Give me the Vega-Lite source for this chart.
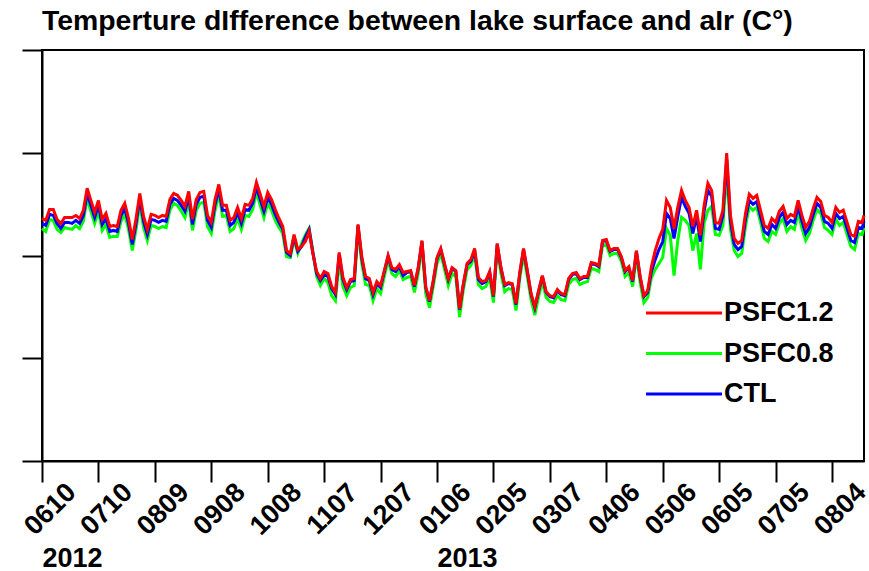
{
  "$schema": "https://vega.github.io/schema/vega-lite/v6.json",
  "width": 822,
  "height": 411,
  "autosize": {"type": "none"},
  "padding": {"left": 42, "top": 50, "right": 5, "bottom": 110},
  "background": "white",
  "config": {
    "font": "Liberation Sans",
    "view": {"stroke": "black", "strokeWidth": 2},
    "axis": {
      "grid": false,
      "domainColor": "black",
      "domainWidth": 2,
      "tickColor": "black",
      "tickWidth": 2,
      "labelFont": "Liberation Sans",
      "labelFontWeight": "bold",
      "labelColor": "black",
      "labelFontSize": 27
    }
  },
  "title": {
    "text": "Temperture dIfference between lake surface and aIr (C°)",
    "anchor": "start",
    "frame": "group",
    "font": "Liberation Sans",
    "fontSize": 28.4,
    "fontWeight": "bold",
    "color": "black",
    "offset": 13
  },
  "data": {
    "values": [
      {"d":"2012-06-10","r":1.80,"b":1.56,"g":1.31},
      {"d":"2012-06-12","r":1.71,"b":1.47,"g":1.17},
      {"d":"2012-06-14","r":2.24,"b":2.00,"g":1.75},
      {"d":"2012-06-16","r":2.24,"b":1.95,"g":1.70},
      {"d":"2012-06-18","r":1.76,"b":1.56,"g":1.27},
      {"d":"2012-06-20","r":1.56,"b":1.32,"g":1.12},
      {"d":"2012-06-22","r":1.85,"b":1.61,"g":1.36},
      {"d":"2012-06-24","r":1.85,"b":1.61,"g":1.31},
      {"d":"2012-06-26","r":1.85,"b":1.56,"g":1.27},
      {"d":"2012-06-28","r":1.95,"b":1.71,"g":1.46},
      {"d":"2012-06-30","r":1.80,"b":1.56,"g":1.31},
      {"d":"2012-07-02","r":2.20,"b":1.95,"g":1.66},
      {"d":"2012-07-04","r":3.27,"b":3.02,"g":2.78},
      {"d":"2012-07-06","r":2.68,"b":2.44,"g":2.15},
      {"d":"2012-07-08","r":2.10,"b":1.85,"g":1.56},
      {"d":"2012-07-10","r":2.68,"b":2.44,"g":2.15},
      {"d":"2012-07-12","r":1.76,"b":1.51,"g":1.22},
      {"d":"2012-07-14","r":2.05,"b":1.80,"g":1.51},
      {"d":"2012-07-16","r":1.41,"b":1.17,"g":0.88},
      {"d":"2012-07-18","r":1.46,"b":1.22,"g":0.93},
      {"d":"2012-07-20","r":1.41,"b":1.17,"g":0.93},
      {"d":"2012-07-22","r":2.20,"b":1.95,"g":1.66},
      {"d":"2012-07-24","r":2.54,"b":2.29,"g":2.00},
      {"d":"2012-07-26","r":1.80,"b":1.56,"g":1.27},
      {"d":"2012-07-28","r":0.78,"b":0.54,"g":0.24},
      {"d":"2012-07-30","r":1.80,"b":1.56,"g":1.27},
      {"d":"2012-08-01","r":3.02,"b":2.78,"g":2.49},
      {"d":"2012-08-03","r":1.90,"b":1.66,"g":1.36},
      {"d":"2012-08-05","r":1.27,"b":1.02,"g":0.73},
      {"d":"2012-08-07","r":2.00,"b":1.76,"g":1.46},
      {"d":"2012-08-09","r":1.95,"b":1.71,"g":1.41},
      {"d":"2012-08-11","r":1.85,"b":1.61,"g":1.31},
      {"d":"2012-08-13","r":1.95,"b":1.71,"g":1.41},
      {"d":"2012-08-15","r":1.90,"b":1.66,"g":1.36},
      {"d":"2012-08-17","r":2.73,"b":2.49,"g":2.20},
      {"d":"2012-08-19","r":3.02,"b":2.78,"g":2.54},
      {"d":"2012-08-21","r":2.93,"b":2.68,"g":2.44},
      {"d":"2012-08-23","r":2.68,"b":2.44,"g":2.15},
      {"d":"2012-08-25","r":2.39,"b":2.15,"g":1.85},
      {"d":"2012-08-27","r":3.12,"b":2.88,"g":2.63},
      {"d":"2012-08-29","r":1.76,"b":1.51,"g":1.22},
      {"d":"2012-08-31","r":2.73,"b":2.49,"g":2.20},
      {"d":"2012-09-02","r":3.07,"b":2.83,"g":2.54},
      {"d":"2012-09-04","r":3.12,"b":2.88,"g":2.59},
      {"d":"2012-09-06","r":1.95,"b":1.71,"g":1.41},
      {"d":"2012-09-08","r":1.61,"b":1.37,"g":1.07},
      {"d":"2012-09-10","r":2.73,"b":2.49,"g":2.20},
      {"d":"2012-09-12","r":3.46,"b":3.22,"g":2.98},
      {"d":"2012-09-14","r":2.44,"b":2.20,"g":1.90},
      {"d":"2012-09-16","r":2.44,"b":2.20,"g":1.95},
      {"d":"2012-09-18","r":1.71,"b":1.46,"g":1.17},
      {"d":"2012-09-20","r":1.85,"b":1.61,"g":1.31},
      {"d":"2012-09-22","r":2.34,"b":2.10,"g":1.80},
      {"d":"2012-09-24","r":1.80,"b":1.56,"g":1.27},
      {"d":"2012-09-26","r":2.49,"b":2.24,"g":1.95},
      {"d":"2012-09-28","r":2.44,"b":2.20,"g":1.90},
      {"d":"2012-09-30","r":2.78,"b":2.54,"g":2.24},
      {"d":"2012-10-02","r":3.56,"b":3.32,"g":3.07},
      {"d":"2012-10-04","r":2.98,"b":2.73,"g":2.44},
      {"d":"2012-10-06","r":2.39,"b":2.15,"g":1.85},
      {"d":"2012-10-08","r":3.07,"b":2.83,"g":2.54},
      {"d":"2012-10-10","r":2.73,"b":2.49,"g":2.20},
      {"d":"2012-10-12","r":2.24,"b":2.00,"g":1.71},
      {"d":"2012-10-14","r":1.80,"b":1.61,"g":1.36},
      {"d":"2012-10-16","r":1.41,"b":1.27,"g":1.07},
      {"d":"2012-10-18","r":0.24,"b":0.15,"g":-0.05},
      {"d":"2012-10-20","r":0.10,"b":0.00,"g":-0.10},
      {"d":"2012-10-22","r":1.02,"b":0.93,"g":0.78},
      {"d":"2012-10-24","r":0.29,"b":0.20,"g":0.10},
      {"d":"2012-10-26","r":0.44,"b":0.44,"g":0.59},
      {"d":"2012-10-28","r":0.68,"b":0.90,"g":1.00},
      {"d":"2012-10-30","r":1.17,"b":1.27,"g":1.32},
      {"d":"2012-11-01","r":0.10,"b":0.15,"g":0.20},
      {"d":"2012-11-03","r":-0.78,"b":-0.88,"g":-1.02},
      {"d":"2012-11-05","r":-1.12,"b":-1.22,"g":-1.46},
      {"d":"2012-11-07","r":-0.78,"b":-0.93,"g":-1.12},
      {"d":"2012-11-09","r":-0.88,"b":-1.02,"g":-1.32},
      {"d":"2012-11-11","r":-1.51,"b":-1.61,"g":-1.95},
      {"d":"2012-11-13","r":-1.80,"b":-1.90,"g":-2.20},
      {"d":"2012-11-15","r":0.15,"b":0.05,"g":-0.29},
      {"d":"2012-11-17","r":-1.07,"b":-1.17,"g":-1.51},
      {"d":"2012-11-19","r":-1.56,"b":-1.66,"g":-1.95},
      {"d":"2012-11-21","r":-1.17,"b":-1.27,"g":-1.56},
      {"d":"2012-11-23","r":-1.12,"b":-1.22,"g":-1.46},
      {"d":"2012-11-25","r":1.51,"b":1.46,"g":1.22},
      {"d":"2012-11-27","r":-0.05,"b":-0.15,"g":-0.39},
      {"d":"2012-11-29","r":-1.02,"b":-1.12,"g":-1.41},
      {"d":"2012-12-01","r":-1.12,"b":-1.22,"g":-1.46},
      {"d":"2012-12-03","r":-1.80,"b":-1.90,"g":-2.20},
      {"d":"2012-12-05","r":-1.27,"b":-1.37,"g":-1.61},
      {"d":"2012-12-07","r":-1.46,"b":-1.56,"g":-1.85},
      {"d":"2012-12-09","r":-0.73,"b":-0.78,"g":-1.02},
      {"d":"2012-12-11","r":0.00,"b":-0.05,"g":-0.24},
      {"d":"2012-12-13","r":-0.59,"b":-0.68,"g":-0.88},
      {"d":"2012-12-15","r":-0.68,"b":-0.78,"g":-1.02},
      {"d":"2012-12-17","r":-0.44,"b":-0.54,"g":-0.73},
      {"d":"2012-12-19","r":-0.83,"b":-0.98,"g":-1.17},
      {"d":"2012-12-21","r":-0.78,"b":-0.83,"g":-1.07},
      {"d":"2012-12-23","r":-0.73,"b":-0.78,"g":-1.02},
      {"d":"2012-12-25","r":-1.46,"b":-1.51,"g":-1.80},
      {"d":"2012-12-27","r":-0.59,"b":-0.63,"g":-0.88},
      {"d":"2012-12-29","r":0.73,"b":0.68,"g":0.44},
      {"d":"2012-12-31","r":-1.51,"b":-1.56,"g":-1.85},
      {"d":"2013-01-02","r":-2.20,"b":-2.24,"g":-2.54},
      {"d":"2013-01-04","r":-1.22,"b":-1.27,"g":-1.51},
      {"d":"2013-01-06","r":-0.10,"b":-0.15,"g":-0.39},
      {"d":"2013-01-08","r":0.34,"b":0.29,"g":0.10},
      {"d":"2013-01-10","r":-0.39,"b":-0.44,"g":-0.68},
      {"d":"2013-01-12","r":-1.12,"b":-1.17,"g":-1.46},
      {"d":"2013-01-14","r":-0.59,"b":-0.63,"g":-0.88},
      {"d":"2013-01-16","r":-0.73,"b":-0.78,"g":-1.02},
      {"d":"2013-01-18","r":-2.59,"b":-2.63,"g":-3.00},
      {"d":"2013-01-20","r":-1.37,"b":-1.41,"g":-1.66},
      {"d":"2013-01-22","r":-0.39,"b":-0.44,"g":-0.68},
      {"d":"2013-01-24","r":-0.20,"b":-0.29,"g":-0.49},
      {"d":"2013-01-26","r":0.34,"b":0.24,"g":0.05},
      {"d":"2013-01-28","r":-1.07,"b":-1.17,"g":-1.41},
      {"d":"2013-01-30","r":-1.27,"b":-1.37,"g":-1.61},
      {"d":"2013-02-01","r":-1.22,"b":-1.27,"g":-1.51},
      {"d":"2013-02-03","r":-0.78,"b":-0.83,"g":-1.07},
      {"d":"2013-02-05","r":-1.95,"b":-2.00,"g":-2.29},
      {"d":"2013-02-07","r":0.59,"b":0.54,"g":0.34},
      {"d":"2013-02-09","r":-0.59,"b":-0.63,"g":-0.88},
      {"d":"2013-02-11","r":-1.41,"b":-1.46,"g":-1.76},
      {"d":"2013-02-13","r":-1.32,"b":-1.37,"g":-1.61},
      {"d":"2013-02-15","r":-1.37,"b":-1.41,"g":-1.66},
      {"d":"2013-02-17","r":-2.34,"b":-2.39,"g":-2.68},
      {"d":"2013-02-19","r":-0.83,"b":-0.88,"g":-1.12},
      {"d":"2013-02-21","r":0.34,"b":0.29,"g":0.05},
      {"d":"2013-02-23","r":-0.73,"b":-0.78,"g":-1.02},
      {"d":"2013-02-25","r":-1.85,"b":-1.90,"g":-2.15},
      {"d":"2013-02-27","r":-2.49,"b":-2.54,"g":-2.90},
      {"d":"2013-03-01","r":-1.71,"b":-1.76,"g":-2.00},
      {"d":"2013-03-03","r":-0.98,"b":-1.02,"g":-1.27},
      {"d":"2013-03-05","r":-1.76,"b":-1.80,"g":-2.05},
      {"d":"2013-03-07","r":-1.95,"b":-2.00,"g":-2.24},
      {"d":"2013-03-09","r":-2.00,"b":-2.05,"g":-2.29},
      {"d":"2013-03-11","r":-1.66,"b":-1.71,"g":-1.95},
      {"d":"2013-03-13","r":-1.85,"b":-1.90,"g":-2.15},
      {"d":"2013-03-15","r":-1.90,"b":-1.95,"g":-2.20},
      {"d":"2013-03-17","r":-1.12,"b":-1.17,"g":-1.41},
      {"d":"2013-03-19","r":-0.88,"b":-0.93,"g":-1.17},
      {"d":"2013-03-21","r":-0.83,"b":-0.88,"g":-1.12},
      {"d":"2013-03-23","r":-1.12,"b":-1.17,"g":-1.41},
      {"d":"2013-03-25","r":-1.02,"b":-1.07,"g":-1.32},
      {"d":"2013-03-27","r":-1.02,"b":-1.07,"g":-1.27},
      {"d":"2013-03-29","r":-0.34,"b":-0.39,"g":-0.63},
      {"d":"2013-03-31","r":-0.39,"b":-0.44,"g":-0.68},
      {"d":"2013-04-02","r":-0.49,"b":-0.54,"g":-0.78},
      {"d":"2013-04-04","r":0.73,"b":0.68,"g":0.49},
      {"d":"2013-04-06","r":0.78,"b":0.73,"g":0.54},
      {"d":"2013-04-08","r":0.24,"b":0.20,"g":0.00},
      {"d":"2013-04-10","r":0.34,"b":0.29,"g":0.10},
      {"d":"2013-04-12","r":0.34,"b":0.29,"g":0.10},
      {"d":"2013-04-14","r":-0.05,"b":-0.10,"g":-0.29},
      {"d":"2013-04-16","r":-0.73,"b":-0.78,"g":-1.02},
      {"d":"2013-04-18","r":-0.54,"b":-0.59,"g":-0.83},
      {"d":"2013-04-20","r":-1.22,"b":-1.27,"g":-1.51},
      {"d":"2013-04-22","r":0.24,"b":0.20,"g":0.00},
      {"d":"2013-04-24","r":-1.02,"b":-1.07,"g":-1.32},
      {"d":"2013-04-26","r":-1.95,"b":-2.00,"g":-2.29},
      {"d":"2013-04-28","r":-1.71,"b":-1.80,"g":-2.05},
      {"d":"2013-04-30","r":-0.54,"b":-0.78,"g":-1.07},
      {"d":"2013-05-02","r":0.24,"b":-0.20,"g":-0.68},
      {"d":"2013-05-04","r":0.83,"b":0.29,"g":-0.39},
      {"d":"2013-05-06","r":1.27,"b":0.68,"g":-0.10},
      {"d":"2013-05-08","r":2.68,"b":2.05,"g":1.32},
      {"d":"2013-05-10","r":2.34,"b":1.80,"g":0.98},
      {"d":"2013-05-12","r":1.32,"b":0.83,"g":-0.98},
      {"d":"2013-05-14","r":2.34,"b":1.90,"g":0.73},
      {"d":"2013-05-16","r":3.17,"b":2.83,"g":1.85},
      {"d":"2013-05-18","r":2.68,"b":2.39,"g":1.71},
      {"d":"2013-05-20","r":2.34,"b":2.05,"g":1.46},
      {"d":"2013-05-22","r":1.41,"b":1.07,"g":0.24},
      {"d":"2013-05-24","r":2.20,"b":1.90,"g":1.07},
      {"d":"2013-05-26","r":0.98,"b":0.68,"g":-0.68},
      {"d":"2013-05-28","r":2.44,"b":2.15,"g":1.56},
      {"d":"2013-05-30","r":3.51,"b":3.17,"g":2.20},
      {"d":"2013-06-01","r":3.17,"b":2.88,"g":2.39},
      {"d":"2013-06-03","r":1.61,"b":1.32,"g":1.02},
      {"d":"2013-06-05","r":1.56,"b":1.27,"g":0.98},
      {"d":"2013-06-07","r":2.20,"b":1.95,"g":1.46},
      {"d":"2013-06-09","r":4.98,"b":4.68,"g":4.10},
      {"d":"2013-06-11","r":1.95,"b":1.66,"g":1.27},
      {"d":"2013-06-13","r":0.83,"b":0.54,"g":0.24},
      {"d":"2013-06-15","r":0.59,"b":0.29,"g":-0.05},
      {"d":"2013-06-17","r":0.73,"b":0.44,"g":0.10},
      {"d":"2013-06-19","r":2.05,"b":1.76,"g":1.41},
      {"d":"2013-06-21","r":2.98,"b":2.68,"g":2.39},
      {"d":"2013-06-23","r":2.78,"b":2.49,"g":2.20},
      {"d":"2013-06-25","r":2.93,"b":2.63,"g":2.34},
      {"d":"2013-06-27","r":2.20,"b":1.90,"g":1.61},
      {"d":"2013-06-29","r":1.46,"b":1.17,"g":0.83},
      {"d":"2013-07-01","r":1.32,"b":1.02,"g":0.68},
      {"d":"2013-07-03","r":1.80,"b":1.51,"g":1.17},
      {"d":"2013-07-05","r":1.61,"b":1.32,"g":1.02},
      {"d":"2013-07-07","r":2.15,"b":1.85,"g":1.56},
      {"d":"2013-07-09","r":2.39,"b":2.10,"g":1.80},
      {"d":"2013-07-11","r":1.80,"b":1.51,"g":1.17},
      {"d":"2013-07-13","r":2.00,"b":1.71,"g":1.41},
      {"d":"2013-07-15","r":1.90,"b":1.61,"g":1.27},
      {"d":"2013-07-17","r":2.68,"b":2.39,"g":2.10},
      {"d":"2013-07-19","r":1.95,"b":1.66,"g":1.32},
      {"d":"2013-07-21","r":1.37,"b":1.07,"g":0.73},
      {"d":"2013-07-23","r":1.66,"b":1.37,"g":1.07},
      {"d":"2013-07-25","r":2.29,"b":2.00,"g":1.71},
      {"d":"2013-07-27","r":2.83,"b":2.54,"g":2.24},
      {"d":"2013-07-29","r":2.63,"b":2.34,"g":2.05},
      {"d":"2013-07-31","r":1.95,"b":1.66,"g":1.36},
      {"d":"2013-08-02","r":1.85,"b":1.56,"g":1.22},
      {"d":"2013-08-04","r":1.61,"b":1.32,"g":1.02},
      {"d":"2013-08-06","r":2.34,"b":2.05,"g":1.76},
      {"d":"2013-08-08","r":2.10,"b":1.80,"g":1.46},
      {"d":"2013-08-10","r":2.20,"b":1.90,"g":1.61},
      {"d":"2013-08-12","r":1.61,"b":1.32,"g":1.02},
      {"d":"2013-08-14","r":1.02,"b":0.73,"g":0.44},
      {"d":"2013-08-16","r":0.93,"b":0.63,"g":0.29},
      {"d":"2013-08-18","r":1.66,"b":1.37,"g":1.07},
      {"d":"2013-08-20","r":1.61,"b":1.32,"g":1.02},
      {"d":"2013-08-21","r":1.95,"b":1.66,"g":1.36}
    ]
  },
  "layer": [
    {
      "mark": {"type": "line", "strokeWidth": 3},
      "encoding": {
        "x": {
          "field": "d",
          "type": "temporal",
          "scale": {"type": "utc", "domain": [{"year": 2012, "month": 6, "date": 10, "utc": true}, {"year": 2013, "month": 8, "date": 21, "utc": true}]},
          "axis": {
            "title": null,
            "labelExpr": "utcFormat(datum.value, '%m%d')",
            "values": [
              {"year": 2012, "month": 6, "date": 10, "utc": true},
              {"year": 2012, "month": 7, "date": 10, "utc": true},
              {"year": 2012, "month": 8, "date": 9, "utc": true},
              {"year": 2012, "month": 9, "date": 8, "utc": true},
              {"year": 2012, "month": 10, "date": 8, "utc": true},
              {"year": 2012, "month": 11, "date": 7, "utc": true},
              {"year": 2012, "month": 12, "date": 7, "utc": true},
              {"year": 2013, "month": 1, "date": 6, "utc": true},
              {"year": 2013, "month": 2, "date": 5, "utc": true},
              {"year": 2013, "month": 3, "date": 7, "utc": true},
              {"year": 2013, "month": 4, "date": 6, "utc": true},
              {"year": 2013, "month": 5, "date": 6, "utc": true},
              {"year": 2013, "month": 6, "date": 5, "utc": true},
              {"year": 2013, "month": 7, "date": 5, "utc": true},
              {"year": 2013, "month": 8, "date": 4, "utc": true}
            ],
            "tickSize": 21,
            "labelAngle": -45,
            "labelAlign": "center",
            "labelBaseline": "middle",
            "labelPadding": 27,
            "labelOffset": 8,
            "labelOverlap": false,
            "labelFlush": false,
            "labelBound": false
          }
        },
        "y": {
          "field": "g",
          "type": "quantitative",
          "scale": {"domain": [-10, 10], "nice": false, "zero": false},
          "axis": {"title": null, "labels": false, "values": [-10, -5, 0, 5, 10], "tickSize": 20}
        },
        "color": {
          "datum": "PSFC0.8",
          "type": "nominal",
          "scale": {"domain": ["PSFC1.2", "PSFC0.8", "CTL"], "range": ["#ff0000", "#00ff00", "#0000ff"]},
          "legend": {
            "title": null,
            "orient": "none",
            "legendX": 628.5,
            "legendY": 249.5,
            "padding": 0,
            "rowPadding": 12.5,
            "symbolType": "M-4,0H4",
            "symbolSize": 361,
            "symbolStrokeWidth": 3,
            "labelFont": "Liberation Sans",
            "labelFontSize": 27,
            "labelFontWeight": "bold",
            "labelColor": "black",
            "labelOffset": 26.5,
            "labelLimit": 0
          }
        }
      }
    },
    {
      "mark": {"type": "line", "strokeWidth": 3},
      "encoding": {
        "x": {
          "field": "d",
          "type": "temporal",
          "axis": {
            "title": null,
            "orient": "bottom",
            "domain": false,
            "ticks": false,
            "labelExpr": "utcFormat(datum.value, '%Y')",
            "values": [
              {"year": 2012, "month": 6, "date": 10, "utc": true},
              {"year": 2013, "month": 1, "date": 6, "utc": true}
            ],
            "labelAngle": 0,
            "labelAlign": "left",
            "labelBaseline": "alphabetic",
            "labelDx": -4,
            "labelPadding": 105,
            "labelOverlap": false,
            "labelFlush": false,
            "labelBound": false
          }
        },
        "y": {"field": "b", "type": "quantitative"},
        "color": {"datum": "CTL", "type": "nominal"}
      }
    },
    {
      "mark": {"type": "line", "strokeWidth": 3},
      "encoding": {
        "x": {"field": "d", "type": "temporal", "axis": null},
        "y": {"field": "r", "type": "quantitative"},
        "color": {"datum": "PSFC1.2", "type": "nominal"}
      }
    }
  ],
  "resolve": {"axis": {"x": "independent"}}
}
